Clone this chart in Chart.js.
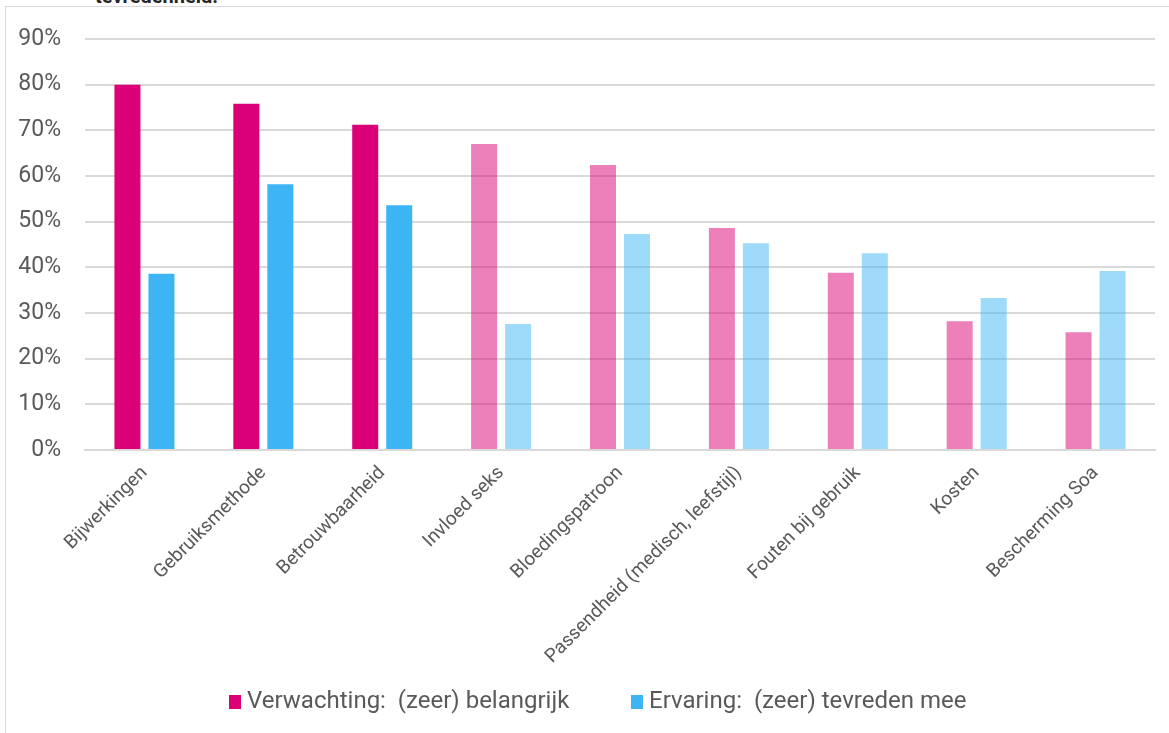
<!DOCTYPE html>
<html>
<head>
<meta charset="utf-8">
<script src="https://cdn.jsdelivr.net/npm/chart.js@4/dist/chart.umd.min.js"></script>
<style>
    html, body { margin: 0; padding: 0; background: #fff; overflow: hidden; }
    body { width: 1169px; height: 733px; position: relative; font-family: Roboto, sans-serif; }
    #frame {
        position: absolute; left: 5px; top: 6px; width: 1170px; height: 740px;
        border-left: 1px solid #d9d9d9; border-top: 1px solid #d9d9d9;
    }
    #chartBox { position: absolute; left: 6px; top: 7px; width: 1163px; height: 726px; }
    #cutTitle {
        position: absolute; left: 95px; top: -16px; font: bold 20px Roboto, sans-serif;
        color: #262626; white-space: nowrap;
    }
    #legend {
        position: absolute; left: 229px; top: 686px; height: 28px;
        font: 24px Roboto, sans-serif; color: #595959; white-space: nowrap;
    }
    .legendItem { position: absolute; top: 0; line-height: 28px; }
    .legendBox {
        display: inline-block; width: 12px; height: 14px; margin-right: 6px;
        vertical-align: -1px;
    }
</style>
</head>
<body>
<div id="cutTitle">tevredenheid.</div>
<div id="frame"></div>
<div id="chartBox"><canvas id="chart"></canvas></div>
<div id="legend"></div>
<script>
const categories = [
    'Bijwerkingen', 'Gebruiksmethode', 'Betrouwbaarheid', 'Invloed seks', 'Bloedingspatroon',
    'Passendheid (medisch, leefstijl)', 'Fouten bij gebruik', 'Kosten', 'Bescherming Soa'
];
const expectation = [80.0, 75.8, 71.2, 67.0, 62.4, 48.6, 38.8, 28.2, 25.8];
const experience = [38.6, 58.2, 53.6, 27.6, 47.3, 45.3, 43.1, 33.3, 39.2];
const seriesNames = ['Verwachting:  (zeer) belangrijk', 'Ervaring:  (zeer) tevreden mee'];
const yTicks = [0, 10, 20, 30, 40, 50, 60, 70, 80, 90];
const highlightedCount = 3;

const pink = '#dc0078';
const blue = '#3db5f5';
const pinkFaded = 'rgba(220, 0, 120, 0.5)';
const blueFaded = 'rgba(61, 181, 245, 0.5)';
const textColor = '#595959';
const gridColor = '#d9d9d9';

const colorsFor = (full, faded) => categories.map((c, i) => i < highlightedCount ? full : faded);

// legend as plain html so the box/text gap matches
const legendOffsets = [0, 402];
window.legend.innerHTML = seriesNames.map((name, i) => `
    <div class="legendItem" style="left:${legendOffsets[i]}px">
        <span class="legendBox" style="background:${[pink, blue][i]}"></span>${name.replace(/  /g, ' &nbsp;')}
    </div>
`).join('');

new Chart(document.getElementById('chart'), {
    type: 'bar',
    data: {
        labels: categories,
        datasets: [
            {
                label: seriesNames[0],
                data: expectation,
                backgroundColor: colorsFor(pink, pinkFaded),
                categoryPercentage: 0.572,
                barPercentage: 0.765
            },
            {
                label: seriesNames[1],
                data: experience,
                backgroundColor: colorsFor(blue, blueFaded),
                categoryPercentage: 0.572,
                barPercentage: 0.765
            }
        ]
    },
    options: {
        responsive: true,
        maintainAspectRatio: false,
        animation: false,
        layout: { padding: { top: 32, right: 14, left: 0, bottom: 58 } },
        plugins: {
            tooltip: { enabled: false },
            legend: { display: false }
        },
        scales: {
            x: {
                grid: { display: false },
                border: { color: gridColor, width: 2 },
                ticks: {
                    color: textColor,
                    font: { family: 'Roboto', size: 19 },
                    maxRotation: 45,
                    minRotation: 45,
                    padding: 4
                },
                afterFit: scale => { scale.height = 225; }
            },
            y: {
                min: 0,
                max: 90,
                border: { display: false },
                grid: { color: gridColor, lineWidth: 2, drawTicks: false },
                afterFit: scale => {
                    scale.width = 79;
                    scale.paddingTop = 0;
                    scale.paddingBottom = 0;
                },
                afterBuildTicks: scale => { scale.ticks = yTicks.map(v => ({ value: v })); },
                ticks: {
                    color: textColor,
                    font: { family: 'Roboto', size: 23 },
                    padding: 24,
                    callback: v => v + '%'
                }
            }
        }
    }
});
</script>
</body>
</html>
